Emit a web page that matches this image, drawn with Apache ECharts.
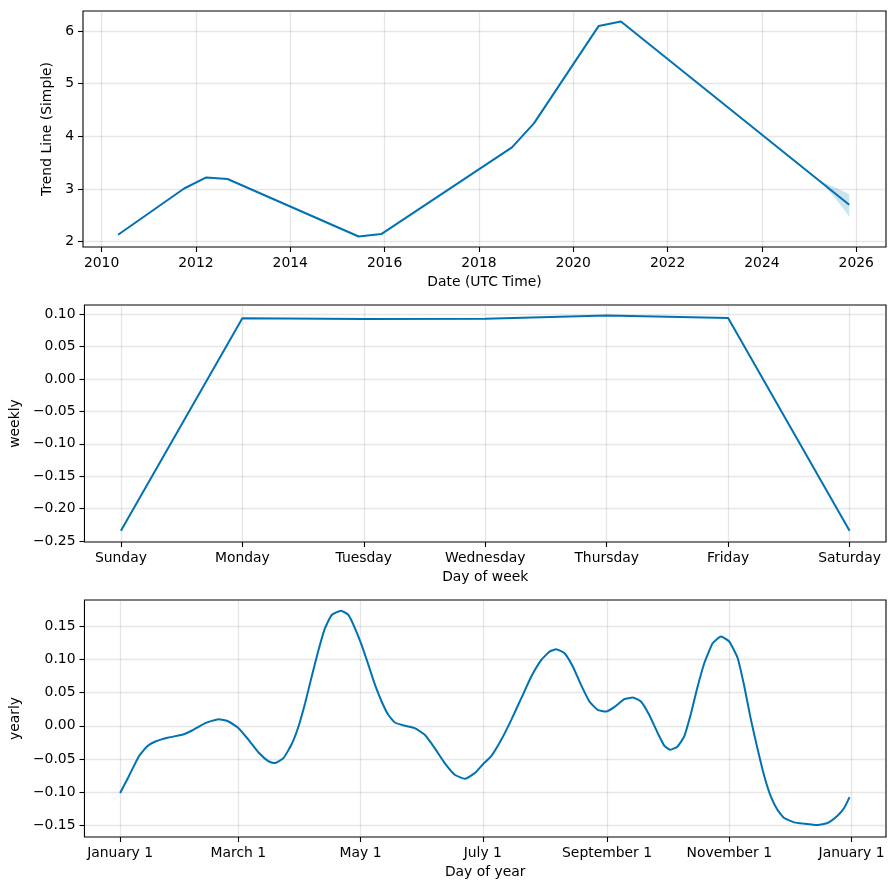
<!DOCTYPE html>
<html>
<head>
<meta charset="utf-8">
<script src="https://cdn.jsdelivr.net/npm/echarts@6/dist/echarts.min.js"></script>
<style>
html,body{margin:0;padding:0;background:#fff;}
#chart{width:895px;height:890px;}
</style>
</head>
<body>
<div id="chart"></div>
<script>
// ---- Trend panel ----
const trendYears  = [2010.35, 2011.75, 2012.22, 2012.67, 2015.45, 2015.93, 2018.70, 2019.17, 2020.54, 2021.01, 2025.85];
const trendValues = [2.133,   3.01,    3.22,    3.19,    2.10,    2.145,   3.79,    4.25,    6.095,   6.18,    2.70];
const bandYears   = [2025.23, 2025.55, 2025.85];
const bandLower   = [3.15, 2.83, 2.48];
const bandUpper   = [3.15, 3.03, 2.905];
const trendTicks  = [2010, 2012, 2014, 2016, 2018, 2020, 2022, 2024, 2026];
const trendYTicks = [2, 3, 4, 5, 6];

// ---- Weekly panel ----
const weekDays   = ['Sunday', 'Monday', 'Tuesday', 'Wednesday', 'Thursday', 'Friday', 'Saturday'];
const weekValues = [-0.234, 0.0938, 0.0926, 0.0933, 0.098, 0.0945, -0.234];
const weekYTicks = [-0.25, -0.20, -0.15, -0.10, -0.05, 0.00, 0.05, 0.10];

// ---- Yearly panel ----
const yearDays = [0, 4.3, 9.3, 13.4, 17.6, 24.2, 30.9, 35.9, 42.5, 49.1, 54.1, 59.1, 64.1, 69.1, 74.1, 77, 81.5, 85.7, 89, 92.3, 95.6, 99, 102.2, 105.6, 110.2, 113.9, 117.2, 120.5, 123.9, 127.2, 130.5, 133.8, 137.1, 142.1, 147, 152, 157, 162, 167, 172, 177, 181, 185.3, 190.2, 195.2, 200.2, 205.2, 210.2, 214.3, 217.6, 221.8, 225.9, 230, 234.2, 238.3, 242.5, 246.6, 251.6, 255.8, 259.9, 264, 268.3, 271.6, 274.6, 278.2, 281.5, 284.9, 288.2, 291.5, 295.7, 299.8, 304, 308.2, 311.5, 314.8, 318.2, 321.5, 324.7, 328, 331.4, 336.4, 341.3, 348, 353, 358, 361.3, 364];
const yearValues = [-0.101, -0.076, -0.046, -0.031, -0.0235, -0.0175, -0.0135, -0.007, 0.004, 0.010, 0.0065, -0.0035, -0.021, -0.040, -0.0535, -0.056, -0.0485, -0.027, -0.001, 0.034, 0.074, 0.114, 0.1465, 0.1665, 0.173, 0.1665, 0.1465, 0.1215, 0.0915, 0.0615, 0.0365, 0.0165, 0.005, 0.0, -0.0035, -0.0135, -0.0335, -0.056, -0.0735, -0.0795, -0.071, -0.058, -0.045, -0.021, 0.009, 0.0415, 0.074, 0.099, 0.1115, 0.115, 0.109, 0.089, 0.0615, 0.0365, 0.024, 0.0215, 0.028, 0.040, 0.0425, 0.0365, 0.0165, -0.011, -0.030, -0.036, -0.031, -0.016, 0.019, 0.059, 0.094, 0.124, 0.134, 0.1265, 0.1015, 0.059, 0.009, -0.036, -0.076, -0.106, -0.126, -0.1385, -0.145, -0.147, -0.149, -0.146, -0.135, -0.1235, -0.107];
const yearTickDays   = [0, 59, 120, 181, 243, 304, 365];
const yearTickLabels = ['January 1', 'March 1', 'May 1', 'July 1', 'September 1', 'November 1', 'January 1'];
const yearYTicks = [-0.15, -0.10, -0.05, 0.00, 0.05, 0.10, 0.15];

const FONT = 'DejaVu Sans';
const FS = 13.9;
const LINE = '#0072B2';
const GRIDC = 'rgba(128,128,128,0.2)';

function fmt2(v) {
  const r = Math.round(v * 100) / 100;
  if (Math.abs(r) < 1e-9) return '0.00';
  return (r < 0 ? '\u2212' : '') + Math.abs(r).toFixed(2);
}

function axisCommon(ticks, formatter) {
  return {
    axisLine: { show: false, onZero: false },
    axisTick: { show: true, length: 5, lineStyle: { color: '#000', width: 1.1 }, customValues: ticks },
    axisLabel: { show: true, color: '#000', fontFamily: FONT, fontSize: FS, margin: 9, customValues: ticks, formatter: formatter,
                 showMinLabel: true, showMaxLabel: true },
    splitLine: { show: true, lineStyle: { color: GRIDC, width: 1.3 } },
    nameTextStyle: { color: '#000', fontFamily: FONT, fontSize: FS },
    nameLocation: 'middle'
  };
}

const grids = [
  { left: 83, top: 11, width: 803, height: 236 },
  { left: 83, top: 305, width: 803, height: 237 },
  { left: 83, top: 600, width: 803, height: 237 }
].map(g => Object.assign(g, { show: true, borderColor: '#000', borderWidth: 1.1, backgroundColor: 'transparent', containLabel: false }));

const xAxes = [
  Object.assign(axisCommon(trendTicks, v => String(Math.round(v))), {
    type: 'value', gridIndex: 0, min: 2009.606, max: 2026.63, name: 'Date (UTC Time)', nameGap: 28
  }),
  Object.assign(axisCommon([0,1,2,3,4,5,6], v => weekDays[Math.round(v)] || ''), {
    type: 'value', gridIndex: 1, min: -0.3, max: 6.3, name: 'Day of week', nameGap: 28
  }),
  Object.assign(axisCommon(yearTickDays, v => { const i = yearTickDays.indexOf(Math.round(v)); return i >= 0 ? yearTickLabels[i] : ''; }), {
    type: 'value', gridIndex: 2, min: -17.8, max: 382.2, name: 'Day of year', nameGap: 28
  })
];

const yAxes = [
  Object.assign(axisCommon(trendYTicks, v => String(Math.round(v))), {
    type: 'value', gridIndex: 0, min: 1.9, max: 6.378, name: 'Trend Line (Simple)', nameGap: 26, nameRotate: 90
  }),
  Object.assign(axisCommon(weekYTicks, fmt2), {
    type: 'value', gridIndex: 1, min: -0.2515, max: 0.1144, name: 'weekly', nameGap: 59, nameRotate: 90
  }),
  Object.assign(axisCommon(yearYTicks, fmt2), {
    type: 'value', gridIndex: 2, min: -0.167, max: 0.189, name: 'yearly', nameGap: 59, nameRotate: 90
  })
];

const trendData = trendYears.map((y, i) => [y, trendValues[i]]);
const bandData = bandYears.map((y, i) => [y, bandLower[i], bandUpper[i]]);
const weekData = weekValues.map((v, i) => [i, v]);
const yearData = yearDays.map((d, i) => [d, yearValues[i]]);

function renderBand(params, api) {
  if (params.dataIndex !== 0) return null;
  const upper = bandData.map(d => api.coord([d[0], d[2]]));
  const lower = bandData.map(d => api.coord([d[0], d[1]])).reverse();
  return {
    type: 'polygon',
    shape: { points: upper.concat(lower) },
    style: { fill: LINE, opacity: 0.2, stroke: null }
  };
}

const option = {
  animation: false,
  backgroundColor: '#fff',
  grid: grids,
  xAxis: xAxes,
  yAxis: yAxes,
  series: [
    { type: 'custom', xAxisIndex: 0, yAxisIndex: 0, data: bandData, renderItem: renderBand,
      encode: { x: 0, y: [1, 2] }, silent: true, z: 1 },
    { type: 'line', xAxisIndex: 0, yAxisIndex: 0, data: trendData, showSymbol: false,
      lineStyle: { color: LINE, width: 2 }, z: 3 },
    { type: 'line', xAxisIndex: 1, yAxisIndex: 1, data: weekData, showSymbol: false,
      lineStyle: { color: LINE, width: 2 } },
    { type: 'line', xAxisIndex: 2, yAxisIndex: 2, data: yearData, showSymbol: false, smooth: 0.15,
      lineStyle: { color: LINE, width: 2 } }
  ]
};

const chart = echarts.init(document.getElementById('chart'), null, { renderer: 'canvas' });
chart.setOption(option);
</script>
</body>
</html>
